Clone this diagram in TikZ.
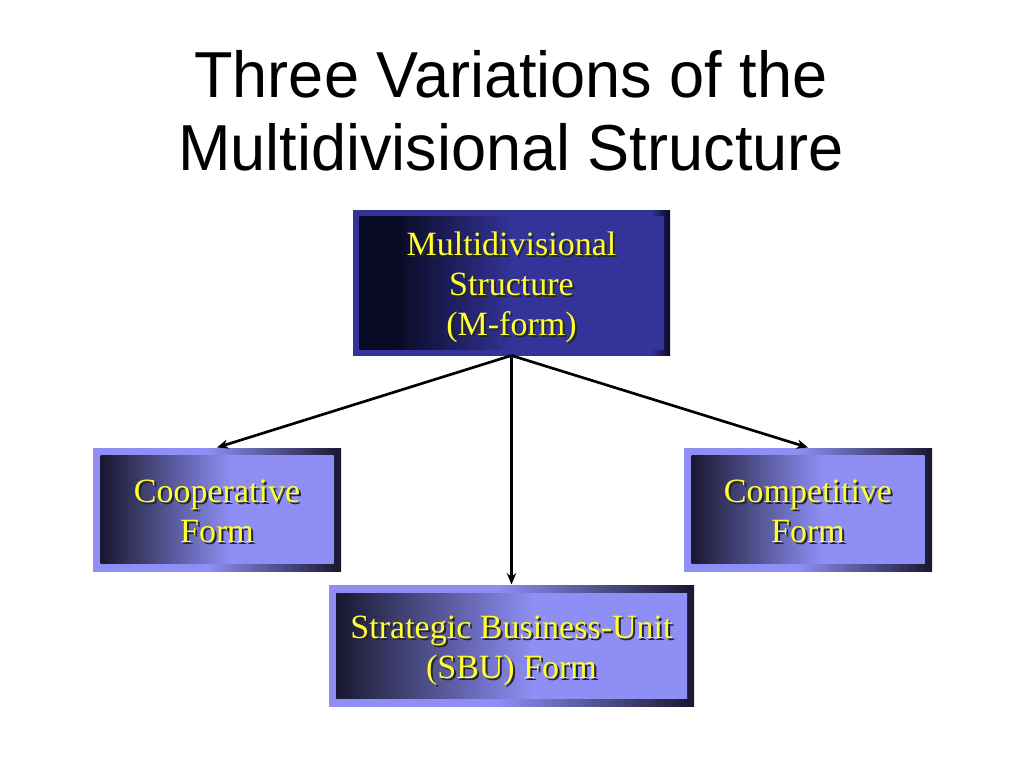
\documentclass[tikz,border=0pt]{standalone}
\usepackage{fontspec}
\setmainfont{Liberation Serif}
\newfontfamily\titlefont[FakeStretch=0.97]{Liberation Sans}
\usetikzlibrary{arrows.meta}

\definecolor{lite}{RGB}{142,142,244}
\definecolor{navy}{RGB}{24,24,48}
\definecolor{mblue}{RGB}{51,51,153}
\definecolor{mdark}{RGB}{10,10,36}
\definecolor{txtyellow}{RGB}{255,255,51}

\pgfdeclarehorizontalshading{formframeshade}{100bp}{color(0bp)=(lite); color(25bp)=(lite); color(48bp)=(lite); color(75bp)=(navy); color(100bp)=(navy)}
\pgfdeclarehorizontalshading{formfillshade}{100bp}{color(0bp)=(navy); color(25bp)=(navy); color(53bp)=(lite); color(75bp)=(lite); color(100bp)=(lite)}
\pgfdeclarehorizontalshading{mframeshade}{100bp}{color(0bp)=(mblue); color(25bp)=(mblue); color(72bp)=(mblue); color(75bp)=(mdark); color(100bp)=(mdark)}
\pgfdeclarehorizontalshading{mfillshade}{100bp}{color(0bp)=(mdark); color(25bp)=(mdark); color(31bp)=(mdark); color(50bp)=(mblue); color(100bp)=(mblue)}

% yellow text line with a dark drop shadow, lowered onto the box centre
\newcommand\shadowed[1]{\raisebox{-10pt}[0pt][0pt]{\makebox[0pt][l]{\kern1.5pt\raisebox{-1.5pt}{\color{black!85}#1}}#1}}

\tikzset{every picture/.style={line width=0.75pt},
  titletext/.style={anchor=base, inner sep=0pt, font=\titlefont\fontsize{48.75}{54}\selectfont},
  boxtext/.style={text=txtyellow, align=center, inner sep=0pt, font=\fontsize{25.5}{30}\selectfont},
  mframe/.style={shading=mframeshade, inner sep=0pt, minimum width=237.75pt, minimum height=108.75pt},
  mfill/.style={shading=mfillshade, boxtext, minimum width=228pt, minimum height=99.75pt},
  formframe/.style={shading=formframeshade, inner sep=0pt, minimum width=186pt, minimum height=92.25pt},
  formfill/.style={shading=formfillshade, boxtext, minimum width=174.75pt, minimum height=81pt},
  conn/.style={line width=2pt, -{Stealth[length=8.5pt,width=7pt]}}}

\begin{document}
\begin{tikzpicture}[x=0.75pt,y=0.75pt,yscale=-1,xscale=1]
	\useasboundingbox (0,0) rectangle (1024,768);

	% Text Node
	\node[titletext] (titleone) at (511,97) {Three Variations of the};
	% Text Node
	\node[titletext] (titletwo) at (511,170) {Multidivisional Structure};

	%Shape: Rectangle
	\node[mframe] (mform) at (511.5,282.5) {};
	\node[mfill] (mformtext) at (mform.center) {\shadowed{Multidivisional}\\\shadowed{Structure}\\\shadowed{(M-form)}};
	%Shape: Rectangle
	\node[formframe] (coop) at (217,509.5) {};
	\node[formfill] (cooptext) at (coop.center) {\shadowed{Cooperative}\\\shadowed{Form}};
	%Shape: Rectangle
	\node[formframe] (comp) at (808,509.5) {};
	\node[formfill] (comptext) at (comp.center) {\shadowed{Competitive}\\\shadowed{Form}};
	%Shape: Rectangle
	\node[formframe, minimum width=273.75pt, minimum height=90.75pt] (sbu) at (511.5,645.5) {};
	\node[formfill, minimum width=263.25pt, minimum height=78.75pt] (sbutext) at (sbu.center) {\shadowed{Strategic Business-Unit}\\\shadowed{(SBU) Form}};

	%Straight Lines
	\draw[conn] (mform.south) -- (coop.north);
	%Straight Lines
	\draw[conn] (mform.south) -- (sbu.north);
	%Straight Lines
	\draw[conn] (mform.south) -- (comp.north);

\end{tikzpicture}
\end{document}
